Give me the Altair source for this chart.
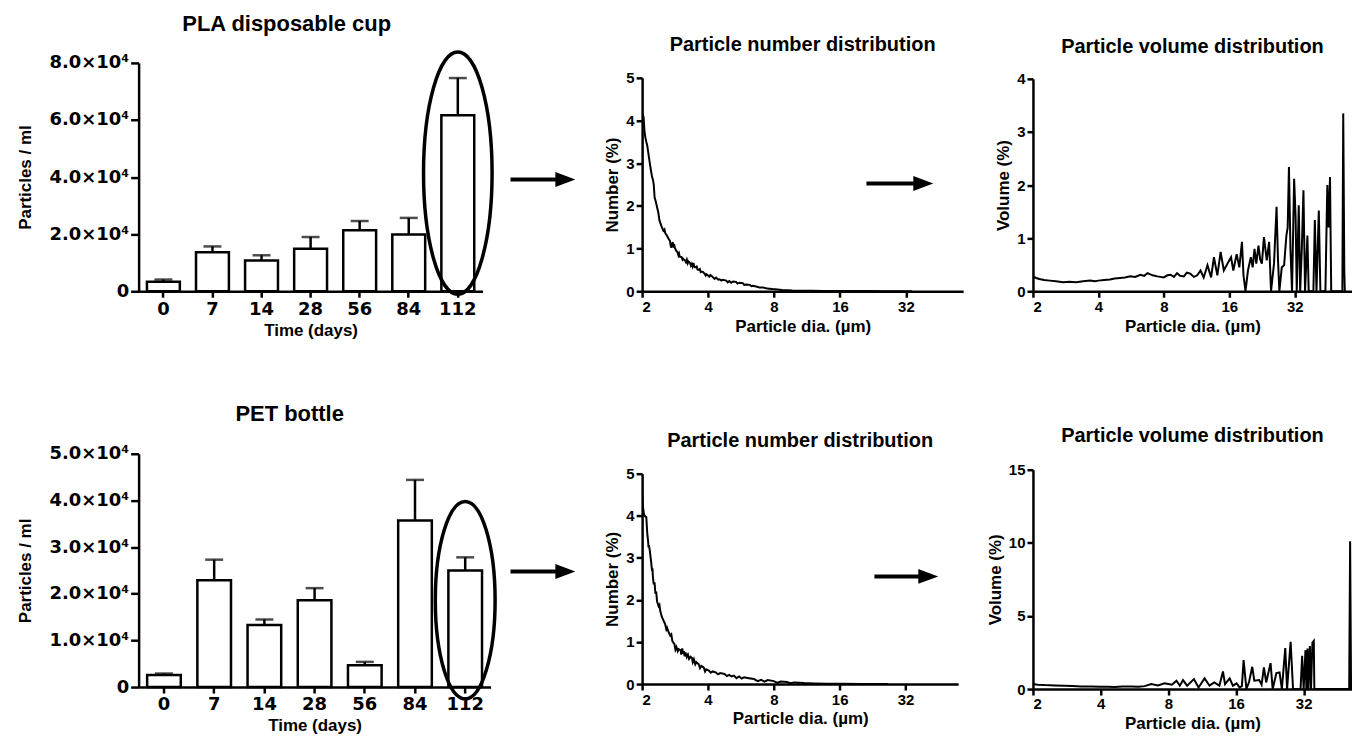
import altair as alt
import pandas as pd

# ---------------- data ----------------
days = ["0", "7", "14", "28", "56", "84", "112"]
pla_mean = [3300, 13700, 10800, 14900, 21400, 19900, 61700]
pla_err = [800, 2000, 1800, 4100, 3200, 5800, 13000]
pet_mean = [2600, 22900, 13300, 18600, 4700, 35700, 25000]
pet_err = [300, 4400, 1200, 2600, 700, 8700, 2800]

circled_day = ["112"]
pla_circle_center = [41400]
pet_circle_center = [18600]

diam_ticks = [2, 4, 8, 16, 32]

pla_number = [
    (2.00, 3.90), (2.01, 4.15), (2.02, 4.05), (2.03, 4.10), (2.05, 3.75), (2.07, 3.60),
    (2.09, 3.50), (2.11, 3.42), (2.14, 3.20), (2.17, 2.99), (2.20, 2.80), (2.22, 2.68),
    (2.24, 2.62), (2.26, 2.50), (2.28, 2.20), (2.31, 2.10), (2.34, 1.97), (2.37, 1.85),
    (2.40, 1.66), (2.43, 1.58), (2.46, 1.50), (2.50, 1.42), (2.53, 1.45), (2.55, 1.36),
    (2.60, 1.30), (2.64, 1.23), (2.68, 1.18), (2.71, 1.02), (2.73, 1.07), (2.76, 1.15),
    (2.78, 1.02), (2.80, 1.10), (2.82, 1.02), (2.86, 0.95), (2.90, 0.92), (2.93, 0.84),
    (2.95, 0.88), (2.97, 0.81), (3.03, 0.80), (3.06, 0.74), (3.08, 0.76), (3.14, 0.72),
    (3.17, 0.68), (3.20, 0.74), (3.23, 0.66), (3.25, 0.70), (3.31, 0.66), (3.34, 0.60),
    (3.37, 0.64), (3.40, 0.58), (3.43, 0.66), (3.46, 0.58), (3.49, 0.56), (3.55, 0.58),
    (3.58, 0.51), (3.61, 0.50), (3.67, 0.52), (3.70, 0.45), (3.73, 0.46), (3.80, 0.45),
    (3.86, 0.41), (3.90, 0.37), (3.93, 0.40), (4.00, 0.37), (4.05, 0.34), (4.10, 0.38),
    (4.21, 0.33), (4.28, 0.29), (4.35, 0.32), (4.45, 0.27), (4.51, 0.28), (4.60, 0.25),
    (4.67, 0.27), (4.84, 0.25), (4.92, 0.21), (5.00, 0.24), (5.10, 0.20), (5.19, 0.23),
    (5.37, 0.22), (5.45, 0.18), (5.56, 0.20), (5.76, 0.19), (5.85, 0.15), (5.97, 0.16),
    (6.20, 0.15), (6.30, 0.12), (6.40, 0.13), (6.63, 0.11), (6.86, 0.09), (7.10, 0.09),
    (7.35, 0.07), (7.60, 0.06), (7.88, 0.05), (8.30, 0.04), (8.70, 0.03), (9.20, 0.025),
    (9.70, 0.015), (10.5, 0.012), (11.9, 0.010), (13.5, 0.006), (15.8, 0.004), (18.5, 0.003),
    (21.4, 0.003), (25.0, 0.002), (29.3, 0.0), (34.0, 0.0),
]

pla_volume = [
    (2.00, 0.28), (2.07, 0.25), (2.14, 0.23), (2.25, 0.21), (2.39, 0.20), (2.55, 0.19),
    (2.75, 0.17), (2.95, 0.18), (3.16, 0.17), (3.40, 0.19), (3.67, 0.20), (3.85, 0.19),
    (4.00, 0.20), (4.25, 0.21), (4.52, 0.22), (4.75, 0.24), (5.03, 0.25), (5.30, 0.26),
    (5.60, 0.28), (5.90, 0.27), (6.24, 0.31), (6.50, 0.29), (6.73, 0.34), (7.10, 0.30),
    (7.47, 0.28), (8.00, 0.26), (8.30, 0.30), (8.60, 0.31), (8.90, 0.27), (9.20, 0.34),
    (9.50, 0.29), (9.90, 0.28), (10.2, 0.35), (10.6, 0.33), (11.0, 0.27), (11.4, 0.30),
    (11.8, 0.39), (12.2, 0.26), (12.7, 0.49), (13.2, 0.26), (13.6, 0.64), (14.1, 0.30),
    (14.6, 0.74), (15.1, 0.39), (15.7, 0.52), (16.3, 0.64), (16.7, 0.39), (17.3, 0.70),
    (17.8, 0.45), (18.3, 0.93), (18.6, 0.30), (19.0, 0.00), (19.5, 0.39), (20.1, 0.64),
    (20.5, 0.45), (20.9, 0.80), (21.3, 0.52), (21.8, 0.86), (22.2, 0.60), (22.6, 0.52),
    (23.1, 1.02), (23.8, 0.58), (24.4, 0.93), (24.9, 0.00), (25.7, 0.52), (26.4, 1.59),
    (26.8, 0.60), (27.2, 0.00), (27.9, 0.45), (28.6, 0.49), (29.3, 1.05), (29.7, 1.20),
    (30.1, 2.34), (30.6, 0.77), (31.1, 0.00), (31.8, 2.12), (32.3, 1.40), (32.7, 0.00),
    (33.4, 1.62), (33.9, 0.00), (34.5, 0.80), (35.1, 1.90), (35.7, 0.00), (36.6, 1.05),
    (37.1, 0.00), (39.0, 0.00), (39.6, 1.34), (40.3, 0.00), (41.3, 1.52), (42.0, 0.00),
    (44.3, 0.00), (44.8, 1.15), (45.2, 2.00), (45.8, 1.20), (46.5, 2.15), (47.1, 0.00),
    (53.0, 0.00), (53.5, 3.35), (54.1, 0.40), (54.4, 0.00),
]

pet_number = [
    (2.00, 4.54), (2.02, 4.20), (2.04, 4.03), (2.07, 3.98), (2.09, 3.97), (2.11, 3.60),
    (2.13, 3.40), (2.14, 3.25), (2.15, 3.30), (2.17, 3.16), (2.20, 2.90), (2.22, 2.69),
    (2.23, 2.75), (2.24, 2.55), (2.26, 2.37), (2.28, 2.42), (2.30, 2.15), (2.32, 2.20),
    (2.34, 1.97), (2.38, 1.85), (2.40, 1.88), (2.42, 1.74), (2.46, 1.60), (2.51, 1.50),
    (2.55, 1.42), (2.58, 1.30), (2.60, 1.34), (2.65, 1.22), (2.69, 1.15), (2.72, 1.18),
    (2.75, 1.02), (2.81, 0.95), (2.84, 0.82), (2.87, 0.88), (2.91, 0.78), (2.94, 0.83),
    (3.00, 0.80), (3.02, 0.70), (3.05, 0.85), (3.08, 0.72), (3.10, 0.78), (3.13, 0.66),
    (3.16, 0.75), (3.20, 0.64), (3.24, 0.70), (3.28, 0.60), (3.33, 0.65), (3.38, 0.62),
    (3.41, 0.52), (3.45, 0.59), (3.50, 0.47), (3.54, 0.52), (3.63, 0.47), (3.68, 0.38),
    (3.73, 0.43), (3.83, 0.39), (3.88, 0.30), (3.93, 0.35), (4.04, 0.32), (4.12, 0.27),
    (4.20, 0.30), (4.34, 0.28), (4.45, 0.23), (4.55, 0.26), (4.76, 0.24), (4.88, 0.19),
    (5.00, 0.22), (5.13, 0.18), (5.26, 0.20), (5.40, 0.14), (5.55, 0.18), (5.70, 0.13),
    (5.85, 0.16), (6.15, 0.14), (6.50, 0.12), (6.75, 0.07), (7.00, 0.10), (7.25, 0.06),
    (7.50, 0.095), (8.00, 0.07), (8.30, 0.03), (8.60, 0.06), (9.20, 0.05), (9.50, 0.02),
    (9.90, 0.04), (11.0, 0.025), (12.2, 0.016), (14.0, 0.010), (16.2, 0.008), (20.0, 0.004),
    (26.6, 0.0),
]

pet_volume = [
    (2.00, 0.34), (2.10, 0.30), (2.25, 0.27), (2.50, 0.25), (2.76, 0.23), (3.00, 0.21),
    (3.28, 0.18), (3.60, 0.17), (4.00, 0.16), (4.30, 0.15), (4.62, 0.14), (5.00, 0.17),
    (5.48, 0.18), (5.90, 0.16), (6.28, 0.20), (6.72, 0.34), (7.20, 0.25), (7.70, 0.39),
    (8.30, 0.30), (8.70, 0.57), (9.00, 0.23), (9.30, 0.61), (9.70, 0.23), (10.4, 0.68),
    (10.9, 0.11), (11.6, 0.73), (12.2, 0.23), (12.8, 0.45), (13.5, 0.23), (14.0, 1.20),
    (14.3, 0.34), (15.0, 0.73), (15.5, 0.23), (16.1, 0.39), (16.6, 0.11), (17.0, 0.20),
    (17.3, 1.98), (17.8, 0.00), (18.3, 0.50), (18.9, 1.52), (19.3, 0.57), (20.3, 0.61),
    (20.8, 0.30), (21.3, 1.48), (21.8, 0.45), (22.8, 1.77), (23.3, 0.00), (24.2, 1.09),
    (25.0, 1.14), (25.6, 0.00), (26.5, 2.80), (27.0, 0.00), (28.0, 3.23), (28.7, 0.00),
    (31.0, 0.00), (31.5, 2.27), (32.0, 0.00), (32.6, 2.66), (32.9, 0.00), (33.3, 2.77),
    (33.6, 0.00), (34.1, 2.95), (34.5, 0.00), (35.0, 3.18), (35.5, 3.30), (35.7, 0.00),
    (51.0, 0.00), (51.5, 10.1), (52.0, 0.00),
]

# ---------------- styling helpers ----------------
FONT = "Liberation Sans"
BIG_LABEL_FONT = "DejaVu Sans"
ARROW_HEAD = "M -1 -0.75 L 1 0 L -1 0.75 Z"


def ellipse_path(ratio):
    k = 0.5523
    kr = k * ratio
    r = ratio
    return (f"M 0 -1 C {kr:.4f} -1 {r:.4f} -{k} {r:.4f} 0 "
            f"C {r:.4f} {k} {kr:.4f} 1 0 1 "
            f"C {-kr:.4f} 1 {-r:.4f} {k} {-r:.4f} 0 "
            f"C {-r:.4f} -{k} {-kr:.4f} -1 0 -1 Z")


def arrow_layers(x0, x1, y):
    one = pd.DataFrame({"k": [0]})
    shaft = alt.Chart(one).mark_rule(color="black", strokeWidth=4).encode(
        x=alt.value(x0), x2=alt.value(x1 - 16), y=alt.value(y))
    head = alt.Chart(one).mark_point(shape=ARROW_HEAD, filled=True, color="black",
                                     opacity=1, size=400, strokeWidth=0).encode(
        x=alt.value(x1 - 10), y=alt.value(y))
    return [shaft, head]


def panel_title(text, size, offset, dx=0):
    return alt.TitleParams(text=text, font=FONT, fontSize=size, fontWeight="bold",
                           color="black", offset=offset, dx=dx, anchor="middle")


AXIS_COMMON = dict(domainColor="black", domainWidth=2.5, tickColor="black", tickWidth=2.5,
                   labelColor="black", titleColor="black", grid=False,
                   labelFontWeight="bold", titleFontWeight="bold", titleFont=FONT)

LEFT_GROUP_WIDTH = 435   # plot + empty gap up to the middle column


def bar_panel(means, errs, circle_y, circle_h, circle_ratio, title, ymax, ystep,
              plot_width, height, arrow, title_offset, title_dx):
    df = pd.DataFrame({"day": days, "mean": means,
                       "top": [m + e for m, e in zip(means, errs)]})
    circ = pd.DataFrame({"day": circled_day, "mean": circle_y})
    xenc = alt.X("day:N", sort=days,
                 scale=alt.Scale(domain=days, range=[0, plot_width],
                                 paddingInner=0.33, paddingOuter=0.17),
                 axis=alt.Axis(title="Time (days)", labelAngle=0, labelFont=BIG_LABEL_FONT,
                               labelFontSize=18, titleFontSize=17, tickSize=6,
                               labelPadding=3, titlePadding=4, **AXIS_COMMON))
    yvals = list(range(0, ymax + 1, ystep))

    def yenc(field):
        return alt.Y(field, type="quantitative",
                     scale=alt.Scale(domain=[0, ymax], nice=False),
                     axis=alt.Axis(title="Particles / ml", values=yvals,
                                   labelExpr="datum.value == 0 ? '0' : format(datum.value / 10000, '.1f') + '×10⁴'",
                                   labelFont=BIG_LABEL_FONT, labelFontSize=18, titleFontSize=17,
                                   tickSize=8, labelPadding=2, titlePadding=15, **AXIS_COMMON))

    bars = alt.Chart(df).mark_bar(fill="white", stroke="black", strokeWidth=2.5).encode(
        x=xenc, y=yenc("mean"))
    rule = alt.Chart(df).mark_rule(color="black", strokeWidth=2.5).encode(
        x=xenc, y=yenc("mean"), y2=alt.Y2("top"))
    cap = alt.Chart(df).mark_tick(color="black", thickness=2.5, size=18).encode(
        x=xenc, y=yenc("top"))
    ell = alt.Chart(circ).mark_point(shape=ellipse_path(circle_ratio), filled=False,
                                     color="black", strokeWidth=3.5, size=circle_h ** 2,
                                     opacity=1).encode(x=xenc, y=yenc("mean"))
    return alt.layer(bars, rule, cap, ell, *arrow_layers(*arrow)).properties(
        width=LEFT_GROUP_WIDTH, height=height,
        title=panel_title(title, 22, title_offset, title_dx))


def dist_panel(points, title, ytitle, xmax, ymax, yvals, width, height, ytop, arrow,
               title_offset):
    df = pd.DataFrame(points, columns=["d", "v"])
    xenc = alt.X("d:Q", scale=alt.Scale(type="log", base=2, domain=[2, xmax], nice=False),
                 axis=alt.Axis(values=diam_ticks, format="d", title="Particle dia. (µm)",
                               labelFont=FONT, labelFontSize=15, titleFontSize=17,
                               tickSize=6, labelPadding=2, titlePadding=4, **AXIS_COMMON))
    yenc = alt.Y("v:Q", scale=alt.Scale(domain=[0, ymax], nice=False, range=[height, ytop]),
                 axis=alt.Axis(values=yvals, title=ytitle, labelFont=FONT, labelFontSize=15,
                               titleFontSize=17, tickSize=6, labelPadding=2, titlePadding=4,
                               **AXIS_COMMON))
    line = alt.Chart(df).mark_line(color="black", strokeWidth=2, clip=True).encode(
        x=xenc, y=yenc)
    layers = [line]
    if arrow:
        layers += arrow_layers(*arrow)
    return alt.layer(*layers).properties(width=width, height=height,
                                         title=panel_title(title, 20, title_offset))


top_left = bar_panel(pla_mean, pla_err, pla_circle_center, 243, 0.283, "PLA disposable cup",
                     80000, 20000, 345, 229, (373, 438, 117), 9, -69)
top_mid = dist_panel(pla_number, "Particle number distribution", "Number (%)", 58.4, 5,
                     [0, 1, 2, 3, 4, 5], 322, 229, 15, (225, 292, 121), 8)
top_right = dist_panel(pla_volume, "Particle volume distribution", "Volume (%)", 58.7, 4,
                       [0, 1, 2, 3, 4], 320, 229, 16, None, 6)

bottom_left = bar_panel(pet_mean, pet_err, pet_circle_center, 198, 0.303, "PET bottle",
                        50000, 10000, 353, 234, (373, 438, 118), 19, -66)
bottom_mid = dist_panel(pet_number, "Particle number distribution", "Number (%)", 55.7, 5,
                        [0, 1, 2, 3, 4, 5], 317, 231, 20, (233, 297, 123), 3)
bottom_right = dist_panel(pet_volume, "Particle volume distribution", "Volume (%)", 52.5, 15,
                          [0, 5, 10, 15], 320, 236, 16, None, 8)

chart = alt.concat(
    top_left, top_mid, top_right, bottom_left, bottom_mid, bottom_right,
    columns=3, align="each", bounds="flush",
    spacing={"row": 163, "column": 70},
).properties(
    padding={"left": 8, "top": 3, "right": 0, "bottom": 0},
    background="white",
).configure_view(stroke="transparent", strokeWidth=0)

chart.save("out.html", embed_options={"renderer": "svg", "actions": False})
